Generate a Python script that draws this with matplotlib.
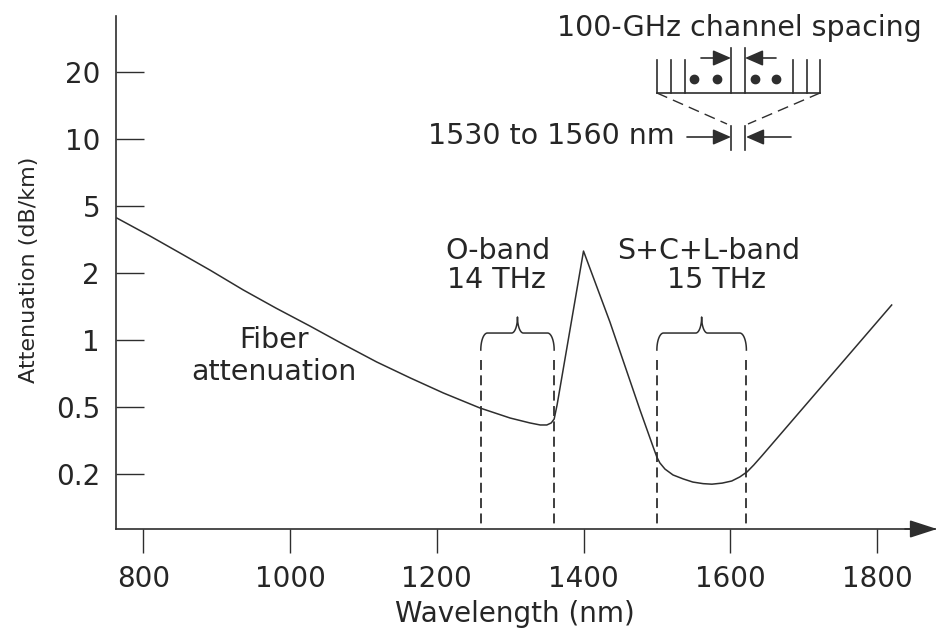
import numpy as np
import matplotlib
matplotlib.use("Agg")
import matplotlib.pyplot as plt
from matplotlib.ticker import FixedLocator, NullLocator

# ---------------- data ----------------
wavelength_nm = [764, 809, 850, 891, 936, 981, 1027, 1072, 1118, 1164, 1209,
                 1259, 1300, 1327, 1341, 1350, 1356, 1360, 1364, 1400, 1436,
                 1477, 1495, 1500, 1504, 1511, 1522, 1536, 1549, 1563, 1575,
                 1589, 1602, 1613, 1623, 1632, 1643, 1820]
attenuation_db_km = [4.24, 3.32, 2.63, 2.08, 1.68, 1.39, 1.156, 0.959, 0.797,
                     0.675, 0.578, 0.493, 0.430, 0.402, 0.391, 0.391, 0.402,
                     0.424, 0.511, 2.70, 1.205, 0.480, 0.289, 0.252, 0.233,
                     0.214, 0.198, 0.190, 0.184, 0.181, 0.180, 0.182, 0.186,
                     0.194, 0.206, 0.226, 0.256, 1.436]

y_ticks = [0.2, 0.5, 1, 2, 5, 10, 20]
y_tick_labels = ["0.2", "0.5", "1", "2", "5", "10", "20"]
x_ticks = [800, 1000, 1200, 1400, 1600, 1800]
x_tick_labels = ["800", "1000", "1200", "1400", "1600", "1800"]
o_band_nm = [1260, 1360]
scl_band_nm = [1500, 1622]
o_band_text = ["O-band", "14 THz"]
scl_band_text = ["S+C+L-band", "15 THz"]

# ---------------- style ----------------
LINE = "#2e2e2e"
TEXT = "#262626"
FS_TICK = 20
FS_TXT = 20.5

# evenly spaced (piecewise-log) y scale like the original figure
scale_vals = np.log10([0.1, 0.2, 0.5, 1, 2, 5, 10, 20, 40])
scale_pos = np.arange(-1, 8, dtype=float)


def fwd(v):
    v = np.clip(np.asarray(v, dtype=float), 1e-9, None)
    return np.interp(np.log10(v), scale_vals, scale_pos)


def inv(p):
    return 10 ** np.interp(np.asarray(p, dtype=float), scale_pos, scale_vals)


W, H = 937, 628
fig = plt.figure(figsize=(W / 100, H / 100), dpi=100)
AXL, AXB, AXR, AXT = 116, 529, 937, 16
ax = fig.add_axes([AXL / W, 1 - AXB / H, (AXR - AXL) / W, (AXB - AXT) / H])


def P(px, py):
    """reference-pixel position -> axes fraction (layout helper for annotations)"""
    return ((px - AXL) / (AXR - AXL), (AXB - py) / (AXB - AXT))


ax.set_yscale("function", functions=(fwd, inv))
ax.set_xlim(762.8, 1881.8)
ax.set_ylim(inv(-0.821), inv(6.836))

for s in ("top", "right"):
    ax.spines[s].set_visible(False)
for s in ("left", "bottom"):
    ax.spines[s].set_linewidth(1.2)
    ax.spines[s].set_color(LINE)

ax.yaxis.set_major_locator(FixedLocator(y_ticks))
ax.yaxis.set_minor_locator(NullLocator())
ax.set_yticklabels(y_tick_labels)
ax.set_xticks(x_ticks)
ax.set_xticklabels(x_tick_labels)
ax.xaxis.set_minor_locator(NullLocator())
ax.tick_params(axis="y", direction="in", length=20, width=1.0, pad=11.5,
               labelsize=FS_TICK, colors=LINE, labelcolor=TEXT)
ax.tick_params(axis="x", direction="out", length=17, width=1.0, pad=9,
               labelsize=FS_TICK, colors=LINE, labelcolor=TEXT)

ax.set_xlabel("Wavelength (nm)", fontsize=FS_TICK, color=TEXT)
ax.xaxis.label.set_va("baseline")
ax.xaxis.set_label_coords(*P(515, 622))
ax.set_ylabel("Attenuation (dB/km)", fontsize=16, color=TEXT)
ax.yaxis.label.set_va("center")
ax.yaxis.set_label_coords(*P(29, 270))

# x axis arrow head
ax.annotate("", xy=(1.0, 0), xytext=P(905, 529), xycoords="axes fraction",
            arrowprops=dict(arrowstyle="-|>,head_length=1.7,head_width=0.55",
                            mutation_scale=10, color=LINE, lw=1.2,
                            shrinkA=0, shrinkB=0), annotation_clip=False)

# fiber attenuation curve
ax.plot(wavelength_nm, attenuation_db_km, color=LINE, lw=1.1,
        solid_joinstyle="round")

# band dashed lines
dash_top = inv(1.70)
y_bot = ax.get_ylim()[0]
for x in o_band_nm + scl_band_nm:
    ax.plot([x, x], [dash_top, y_bot], color=LINE, lw=1.3,
            linestyle=(0, (5.5, 3.0)), clip_on=False)


def brace(x0, x1, y_end=1.85, y_top=2.104, y_tip=2.343, rx=9.0, rt=8.0, n=24):
    xm = (x0 + x1) / 2
    t1 = np.linspace(np.pi, np.pi / 2, n)
    cx = x0 + rx + rx * np.cos(t1)
    cy = y_end + (y_top - y_end) * np.sin(t1)
    t2 = np.linspace(1.5 * np.pi, 2 * np.pi, n)
    tx = xm - rt + rt * np.cos(t2)
    ty = y_tip + (y_tip - y_top) * np.sin(t2)
    lx = np.concatenate([cx, tx])
    ly = np.concatenate([cy, ty])
    xs = np.concatenate([lx, (2 * xm - lx)[::-1]])
    ys = np.concatenate([ly, ly[::-1]])
    return xs, inv(ys)


for band in (o_band_nm, scl_band_nm):
    bx, by = brace(*band)
    ax.plot(bx, by, color=LINE, lw=1.1)

# text labels
tk = dict(transform=ax.transAxes, fontsize=FS_TXT, color=TEXT, ha="center",
          va="baseline")
ax.text(*P(274, 348), "Fiber", **tk)
ax.text(*P(274, 380), "attenuation", **tk)
ax.text(*P(498, 259), o_band_text[0], **tk)
ax.text(*P(496, 288), o_band_text[1], **tk)
ax.text(*P(709, 259), scl_band_text[0], **tk)
ax.text(*P(717, 288), scl_band_text[1], **tk)
ax.text(*P(739, 36), "100-GHz channel spacing", **tk)
tk2 = dict(tk)
tk2["ha"] = "right"
ax.text(*P(675, 144), "1530 to 1560 nm", **tk2)

# channel-spacing inset
lk = dict(transform=ax.transAxes, color=LINE, lw=1.2, clip_on=False)


def seg(p0, p1, **kw):
    a, b = P(*p0), P(*p1)
    kk = dict(lk)
    kk.update(kw)
    ax.plot([a[0], b[0]], [a[1], b[1]], **kk)


seg((657, 93), (820, 93))
for x in (657, 671, 685, 793, 807, 820):
    seg((x, 60), (x, 93))
for x in (731, 745):
    seg((x, 48), (x, 93))
    seg((x, 126), (x, 150))
seg((657, 93), (727, 124), linestyle=(0, (8, 4.5)), lw=1.0)
seg((820, 93), (748, 124), linestyle=(0, (8, 4.5)), lw=1.0)
dots = [P(694, 79), P(717, 79), P(755, 79), P(776, 79)]
ax.plot([d[0] for d in dots], [d[1] for d in dots], "o", ms=6, color=LINE,
        transform=ax.transAxes, clip_on=False)


def arrow(tail, tip):
    ax.annotate("", xy=P(*tip), xytext=P(*tail), xycoords="axes fraction",
                arrowprops=dict(arrowstyle="-|>,head_length=1.1,head_width=0.48",
                                mutation_scale=10, color=LINE, lw=1.2,
                                shrinkA=0, shrinkB=0), annotation_clip=False)


arrow((701, 58), (731, 58))
arrow((776, 58), (745, 58))
arrow((687, 137), (731, 137))
arrow((791, 137), (746, 137))

fig.savefig("out.png", dpi=100)
